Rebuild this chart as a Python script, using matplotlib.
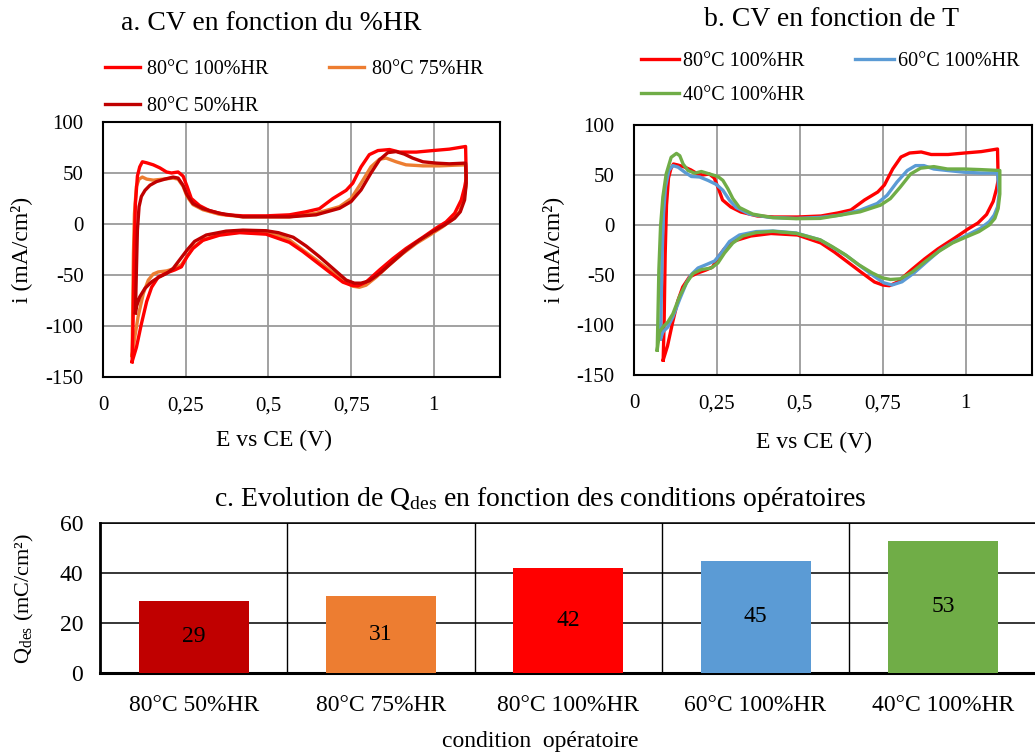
import matplotlib
matplotlib.use("Agg")
import matplotlib.pyplot as plt

plt.rcParams['font.family'] = ['Liberation Serif', 'DejaVu Serif']
plt.rcParams['mathtext.fontset'] = 'custom'
plt.rcParams['mathtext.rm'] = 'Liberation Serif'
plt.rcParams['mathtext.it'] = 'Liberation Serif:italic'
plt.rcParams['axes.unicode_minus'] = False

# ---------------- data ----------------
# 80°C 100%HR (shared by panels a and b)
e_80_100 = [0.088, 0.091, 0.094, 0.098, 0.104, 0.111, 0.119, 0.132, 0.152, 0.172, 0.192, 0.207, 0.227,
            0.242, 0.254, 0.267, 0.292, 0.322, 0.372, 0.423, 0.493, 0.5635, 0.614, 0.654, 0.695, 0.735,
            0.755, 0.78, 0.805, 0.831, 0.866, 0.896, 0.947, 0.997, 1.047, 1.096,
            1.098, 1.093, 1.083, 1.063, 1.037, 1.007, 0.967, 0.916, 0.876, 0.836, 0.795, 0.77, 0.75,
            0.725, 0.684, 0.644, 0.604, 0.5635, 0.493, 0.413, 0.352, 0.302, 0.272, 0.254, 0.237,
            0.217, 0.192, 0.167, 0.147, 0.132, 0.116, 0.101, 0.088]
i_80_100 = [-135, -94, -29, 20, 47, 56, 61, 60, 58, 55, 51, 50, 51,
            47, 37, 25, 18, 13, 9, 8, 8, 9, 12, 15, 25, 33,
            40, 56, 68, 72, 73, 70.5, 70.5, 72, 73.4, 76,
            45, 36, 23.6, 10.5, 2, -4, -13, -24, -34, -45, -57, -60.7, -60,
            -57, -47, -37, -27, -18, -10, -8.5, -11, -16, -24, -32, -42,
            -45, -48, -52, -62, -76, -98, -121, -135]

# 80°C 75%HR
e_80_75 = [0.088, 0.090, 0.092, 0.095, 0.101, 0.109, 0.119, 0.132, 0.152, 0.182, 0.212, 0.227, 0.242,
           0.254, 0.272, 0.302, 0.352, 0.423, 0.493, 0.5635, 0.644, 0.715, 0.75, 0.78, 0.81, 0.836,
           0.856, 0.886, 0.916, 0.967, 1.017, 1.068, 1.096,
           1.097, 1.090, 1.078, 1.057, 1.027, 0.987, 0.947, 0.906, 0.866, 0.826, 0.795, 0.775, 0.755,
           0.725, 0.684, 0.644, 0.604, 0.5635, 0.543, 0.493, 0.413, 0.352, 0.302, 0.272, 0.254, 0.237,
           0.217, 0.192, 0.167, 0.152, 0.137, 0.122, 0.106, 0.096, 0.088]
i_80_75 = [-129, -78, -29, 10, 37, 44, 46, 44, 43, 44, 45, 44, 37,
           27, 19, 14, 9.5, 7, 7, 7, 10.5, 17, 25, 40, 56, 63.6,
           64.6, 61, 58, 57, 57, 57.7, 58,
           37, 23.6, 12, 4.6, -2.6, -11, -19, -29, -40, -52, -60, -62, -61,
           -55, -45, -35, -25.6, -15.7, -12.5, -9, -8, -10, -15.7, -23, -32, -40,
           -43.6, -46, -47, -49, -55, -68, -91, -111, -129]

# 80°C 50%HR
e_80_50 = [0.098, 0.101, 0.104, 0.109, 0.116, 0.127, 0.142, 0.162, 0.187, 0.212, 0.227, 0.242, 0.254,
           0.272, 0.302, 0.352, 0.423, 0.493, 0.5635, 0.644, 0.715, 0.75, 0.78, 0.81, 0.836, 0.861,
           0.886, 0.911, 0.936, 0.967, 1.007, 1.047, 1.096,
           1.098, 1.093, 1.080, 1.063, 1.032, 0.997, 0.957, 0.916, 0.876, 0.836, 0.805, 0.78, 0.76,
           0.735, 0.695, 0.654, 0.614, 0.575, 0.53, 0.493, 0.423, 0.372, 0.312, 0.277, 0.254, 0.232,
           0.212, 0.192, 0.167, 0.147, 0.127, 0.111, 0.101, 0.098]
i_80_50 = [-87, -45, -6, 17, 27, 33, 38, 41.6, 44, 46, 45, 38, 28.5,
           20, 15, 10.5, 7, 7, 7, 9, 15.4, 22, 33.4, 50, 63, 70,
           71, 68.5, 64.6, 61, 59.7, 59, 59.7,
           40, 23.6, 12, 5.6, -1, -7.5, -15.7, -25.6, -37, -48.5, -55.7, -58, -58,
           -55, -43.6, -32, -21.6, -13, -8.5, -6.6, -6, -7, -10.8, -17, -25.6, -35,
           -43.6, -48.5, -52.5, -56.7, -63, -71.5, -81, -87]

# 60°C 100%HR
e_60_100 = [0.080, 0.082, 0.085, 0.089, 0.095, 0.105, 0.117, 0.133, 0.153, 0.173, 0.198, 0.223, 0.248,
            0.268, 0.288, 0.308, 0.348, 0.409, 0.489, 0.5615, 0.622, 0.682, 0.733, 0.763, 0.793, 0.824,
            0.849, 0.874, 0.904, 0.945, 0.995, 1.045, 1.096,
            1.101, 1.096, 1.086, 1.071, 1.045, 1.005, 0.965, 0.924, 0.884, 0.844, 0.808, 0.778, 0.753,
            0.723, 0.682, 0.642, 0.602, 0.5615, 0.489, 0.419, 0.368, 0.318, 0.288, 0.263, 0.243,
            0.218, 0.193, 0.173, 0.158, 0.138, 0.117, 0.102, 0.087, 0.080]
i_60_100 = [-114, -77.6, -28, 11.6, 38, 54.5, 59.4, 57.8, 52.8, 48.5, 48, 44.6, 40.6,
            34.7, 24.8, 17.5, 10.9, 7.6, 6.6, 7.6, 9.9, 14.9, 21.5, 29.7, 43, 54.5,
            59.4, 59.4, 56, 54.5, 52.8, 52, 52,
            31, 18, 9.9, 3.3, -3.3, -10, -16.5, -24.8, -36.3, -48, -56.8, -60, -57.8,
            -51, -41, -31, -23, -14.9, -8, -6, -6.6, -10, -16.5, -28, -36,
            -39.6, -43, -49.5, -58, -74, -92, -102, -107, -114]

# 40°C 100%HR
e_40_100 = [0.070, 0.072, 0.075, 0.080, 0.087, 0.097, 0.112, 0.128, 0.138, 0.148, 0.163, 0.183, 0.203,
            0.228, 0.253, 0.268, 0.283, 0.298, 0.318, 0.358, 0.419, 0.489, 0.5615, 0.622, 0.682, 0.743,
            0.773, 0.803, 0.834, 0.864, 0.904, 0.945, 0.995, 1.045, 1.103,
            1.103, 1.098, 1.088, 1.071, 1.040, 1.000, 0.960, 0.919, 0.879, 0.839, 0.803, 0.773, 0.748,
            0.718, 0.677, 0.637, 0.597, 0.5615, 0.489, 0.419, 0.368, 0.328, 0.298, 0.273, 0.253,
            0.233, 0.203, 0.178, 0.158, 0.138, 0.117, 0.102, 0.087, 0.077, 0.070]
i_40_100 = [-125, -94, -44.6, -1.6, 28, 51, 67.7, 71.6, 69.3, 61, 54.5, 51.8, 53.5,
            51, 48.5, 44.6, 36.3, 26.4, 17.5, 10.9, 7.3, 6.3, 6.6, 9.9, 13.2, 19.8,
            26.4, 38, 51, 56.8, 58.4, 56, 56, 55.4, 54.5,
            31, 16.5, 6.6, 0, -6.6, -12.2, -18, -26.4, -36.3, -47, -53.8, -54.5, -52.8,
            -47.9, -39.6, -29.7, -21.5, -14.9, -8.3, -6.3, -7.6, -11, -18, -28, -38,
            -43, -44.6, -48.5, -58, -71, -89, -97, -102, -107, -125]

# Bar chart
conditions = ['80°C 50%HR', '80°C 75%HR', '80°C 100%HR', '60°C 100%HR', '40°C 100%HR']
q_des = [29, 31, 42, 45, 53]

x_ticks = [0, 0.25, 0.5, 0.75, 1]
x_tick_labels = ['0', '0,25', '0,5', '0,75', '1']
y_ticks = [-150, -100, -50, 0, 50, 100]
bar_y_ticks = [0, 20, 40, 60]

# ---------------- colours ----------------
C_RED = '#FF0000'
C_ORANGE = '#ED7D31'
C_DARK = '#C00000'
C_BLUE = '#5B9BD5'
C_GREEN = '#70AD47'
bar_colors = [C_DARK, C_ORANGE, C_RED, C_BLUE, C_GREEN]

W, H = 1035, 756
fig = plt.figure(figsize=(W / 100, H / 100), dpi=100)


def fx(px):
    return px / W


def fy(py):
    return 1 - py / H


def style_cv(ax):
    ax.set_xlim(0, 1.2)
    ax.set_ylim(-150, 100)
    ax.set_xticks(x_ticks)
    ax.set_xticklabels(x_tick_labels)
    ax.set_yticks(y_ticks)
    ax.grid(True, color='#9A9A9A', lw=1.3)
    ax.set_axisbelow(True)
    for s in ax.spines.values():
        s.set_color('black')
        s.set_linewidth(1.5)
    ax.tick_params(axis='both', length=0, labelsize=15)
    ax.tick_params(axis='x', pad=14)
    ax.tick_params(axis='y', pad=14)


LW = 2.4

# ---------------- panel a ----------------
axa = fig.add_axes([fx(103), fy(377), fx(500 - 103), (377 - 122) / H])
style_cv(axa)
la1, = axa.plot(e_80_100, i_80_100, color=C_RED, lw=LW, label='80°C 100%HR', zorder=3)
la2, = axa.plot(e_80_75, i_80_75, color=C_ORANGE, lw=LW, label='80°C 75%HR', zorder=2)
la3, = axa.plot(e_80_50, i_80_50, color=C_DARK, lw=LW, label='80°C 50%HR', zorder=4)
axa.set_xlabel('E vs CE (V)', fontsize=17, va='center')
axa.xaxis.set_label_coords((274 - 103) / 397, (377 - 440) / 255)
axa.set_ylabel('i (mA/cm²)', fontsize=17, va='center')
axa.yaxis.set_label_coords((21 - 103) / 397, 0.5)
fig.text(fx(271), fy(23), 'a. CV en fonction du %HR', fontsize=20, ha='center', va='center')
fig.legend(handles=[la1, la3, la2], loc='upper left', bbox_to_anchor=(fx(105), fy(60)),
           ncol=2, frameon=False, fontsize=14.5, handlelength=1.75, handletextpad=0.35,
           columnspacing=3.0, labelspacing=0.9, borderpad=0, borderaxespad=0)

# ---------------- panel b ----------------
axb = fig.add_axes([fx(634), fy(375), fx(1032 - 634), (375 - 125) / H])
style_cv(axb)
lb1, = axb.plot(e_80_100, i_80_100, color=C_RED, lw=LW, label='80°C 100%HR', zorder=2)
lb2, = axb.plot(e_60_100, i_60_100, color=C_BLUE, lw=LW, label='60°C 100%HR', zorder=3)
lb3, = axb.plot(e_40_100, i_40_100, color=C_GREEN, lw=LW, label='40°C 100%HR', zorder=4)
axb.set_xlabel('E vs CE (V)', fontsize=17, va='center')
axb.xaxis.set_label_coords((814 - 634) / 398, (375 - 442) / 250)
axb.set_ylabel('i (mA/cm²)', fontsize=17, va='center')
axb.yaxis.set_label_coords((553 - 634) / 398, 0.5)
fig.text(fx(831), fy(20), 'b. CV en fonction de T', fontsize=20, ha='center', va='center')
fig.legend(handles=[lb1, lb3, lb2], loc='upper left', bbox_to_anchor=(fx(641), fy(52)),
           ncol=2, frameon=False, fontsize=14.5, handlelength=1.9, handletextpad=0.2,
           columnspacing=2.5, labelspacing=0.75, borderpad=0, borderaxespad=0)

# ---------------- panel c ----------------
axc = fig.add_axes([fx(100), fy(673), 936.5 / W, (673 - 523) / H])
xpos = list(range(len(conditions)))
bars = axc.bar(xpos, q_des, width=0.587, color=bar_colors, zorder=3)
axc.set_xlim(-0.5, len(conditions) - 0.5)
axc.set_ylim(0, 60)
axc.set_yticks(bar_y_ticks)
axc.set_xticks(xpos)
axc.set_xticklabels(conditions)
axc.tick_params(axis='both', length=0, labelsize=17)
axc.tick_params(axis='x', pad=16)
axc.tick_params(axis='y', pad=12)
axc.yaxis.grid(True, color='black', lw=1.1)
for k in range(len(conditions) - 1):
    axc.axvline(k + 0.5, color='black', lw=1.0, zorder=1)
axc.set_axisbelow(True)
axc.spines['right'].set_visible(False)
axc.spines['top'].set_linewidth(1.1)
axc.spines['left'].set_linewidth(2.0)
axc.spines['bottom'].set_linewidth(2.2)
axc.bar_label(bars, labels=[str(v) for v in q_des], label_type='center', fontsize=17)
axc.set_ylabel(r'Q$_{\mathrm{des}}$ (mC/cm²)', fontsize=16, va='center')
axc.yaxis.set_label_coords((24 - 100) / 936.5, 0.5)
axc.set_xlabel('condition  opératoire', fontsize=17, va='center')
axc.xaxis.set_label_coords((540 - 100) / 936.5, (673 - 742) / 150)
fig.text(fx(540), fy(500), r'c. Evolution de Q$_{\mathrm{des}}$ en fonction des conditions opératoires',
         fontsize=20, ha='center', va='center')

fig.savefig('out.png', dpi=100)
